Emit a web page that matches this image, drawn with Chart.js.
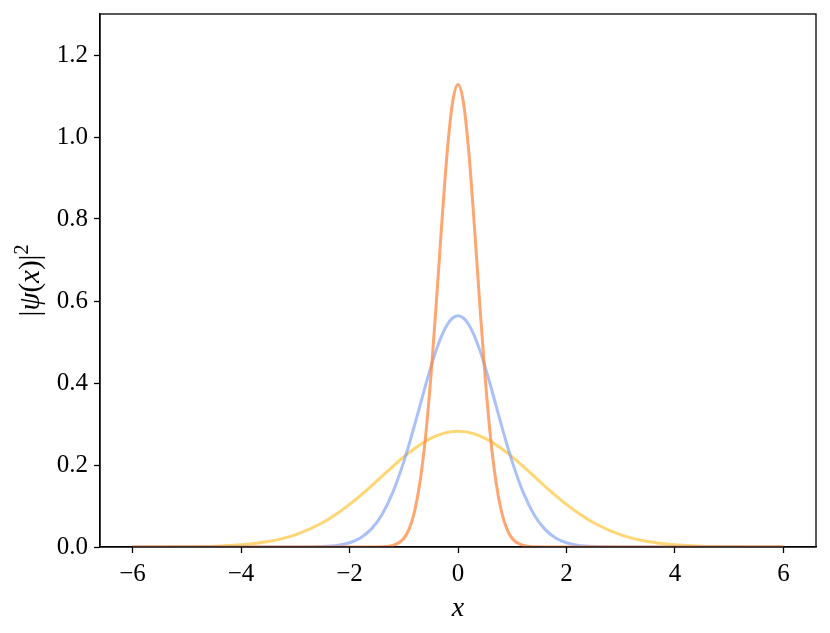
<!DOCTYPE html>
<html>
<head>
<meta charset="utf-8">
<script src="https://cdn.jsdelivr.net/npm/chart.js@4"></script>
<style>
  body { margin: 0; background: #fff; }
  #box { width: 830px; height: 633px; }
</style>
</head>
<body>
<div id="box"><canvas id="psiChart"></canvas></div>
<script>
// sample positions along x (denser near the peak)
const xs = [-6, -5.5, -5, -4.5, -4, -3.5, -3, -2.5, -2.2, -2.0, -1.8, -1.6, -1.4, -1.2, -1.0,
  -0.9, -0.8, -0.7, -0.6, -0.5, -0.4, -0.3, -0.2, -0.1, 0,
  0.1, 0.2, 0.3, 0.4, 0.5, 0.6, 0.7, 0.8, 0.9, 1.0, 1.2, 1.4, 1.6, 1.8, 2.0, 2.2, 2.5, 3, 3.5, 4, 4.5, 5, 5.5, 6];

// values, left half (x = -6 .. 0); right half mirrors it
const narrowLeft = [0, 0, 0, 0, 0, 0, 0, 0, 0, 0, 0, 0.00004, 0.00045, 0.0036, 0.0207,
  0.0442, 0.0872, 0.159, 0.267, 0.415, 0.595, 0.787, 0.962, 1.084, 1.128];
const mediumLeft = [0, 0, 0, 0, 0, 0, 0.00007, 0.0011, 0.0045, 0.0103, 0.0221, 0.0436, 0.0795, 0.1337, 0.2076,
  0.251, 0.2975, 0.3456, 0.3936, 0.4394, 0.4808, 0.5156, 0.5421, 0.5586, 0.5642];
const wideLeft = [0.00003, 0.00015, 0.00055, 0.0018, 0.0052, 0.0132, 0.0297, 0.0591, 0.0841, 0.1038, 0.1255, 0.1487, 0.1728, 0.1968, 0.2197,
  0.2304, 0.2404, 0.2496, 0.2578, 0.265, 0.271, 0.2758, 0.2793, 0.2814, 0.2821];

const xTicks = [-6, -4, -2, 0, 2, 4, 6];
const yTicks = [0, 0.2, 0.4, 0.6, 0.8, 1.0, 1.2];

const mirror = (left) => left.concat(left.slice(0, -1).reverse());
const points = (values) => values.map((y, i) => ({ x: xs[i], y }));

const series = [
  { label: "narrow", values: mirror(narrowLeft), color: "rgba(255, 135, 65, 0.75)" },
  { label: "medium", values: mirror(mediumLeft), color: "rgba(125, 160, 245, 0.65)" },
  { label: "wide", values: mirror(wideLeft), color: "rgba(255, 195, 50, 0.68)" },
];

const serif = "'Liberation Serif', 'DejaVu Serif', serif";

const frame = {
  id: "frame",
  afterDraw(chart) {
    const { ctx, chartArea: a } = chart;
    ctx.save();
    ctx.strokeStyle = "#000";
    ctx.lineWidth = 1.3;
    ctx.strokeRect(a.left, a.top, a.right - a.left, a.bottom - a.top);

    // y axis label |ψ(x)|² with mixed upright / italic pieces
    ctx.translate(30, (a.top + a.bottom) / 2);
    ctx.rotate(-Math.PI / 2);
    ctx.fillStyle = "#000";
    ctx.textBaseline = "alphabetic";
    const parts = [
      ["|", "29px " + serif, 0],
      ["ψ", "italic 29px " + serif, 0],
      ["(", "29px " + serif, 0],
      ["x", "italic 29px " + serif, 0],
      [")|", "29px " + serif, 0],
      ["2", "20px " + serif, -11],
    ];
    let width = 0;
    parts.forEach(([t, f]) => { ctx.font = f; width += ctx.measureText(t).width; });
    let pos = -width / 2;
    parts.forEach(([t, f, dy]) => {
      ctx.font = f;
      ctx.fillText(t, pos, 9 + dy);
      pos += ctx.measureText(t).width;
    });
    ctx.restore();
  },
};

new Chart(document.getElementById("psiChart"), {
  type: "line",
  data: {
    datasets: series.map((s) => ({
      label: s.label,
      data: points(s.values),
      borderColor: s.color,
      borderWidth: 3,
      pointRadius: 0,
      fill: false,
      cubicInterpolationMode: "monotone",
    })),
  },
  options: {
    responsive: true,
    maintainAspectRatio: false,
    animation: false,
    layout: { padding: { top: 14, right: 14 } },
    plugins: { legend: { display: false }, tooltip: { enabled: false } },
    scales: {
      x: {
        type: "linear",
        min: -6.6,
        max: 6.6,
        afterBuildTicks: (scale) => { scale.ticks = xTicks.map((value) => ({ value })); },
        afterFit: (scale) => { scale.height = 86; },
        grid: { drawOnChartArea: false, drawTicks: true, tickLength: 6, color: "#000", tickWidth: 1.3 },
        border: { display: true, color: "#000", width: 1.3 },
        ticks: {
          color: "#000",
          padding: 6,
          maxRotation: 0,
          font: { family: serif, size: 25 },
          callback: (v) => (v < 0 ? "\u2212" + Math.abs(v) : String(v)),
        },
        title: { display: true, text: "x", color: "#000", padding: { top: 0, bottom: 8 }, font: { family: serif, size: 28, style: "italic" } },
      },
      y: {
        type: "linear",
        min: 0,
        max: 1.3,
        afterBuildTicks: (scale) => { scale.ticks = yTicks.map((value) => ({ value })); },
        afterFit: (scale) => { scale.width = 100; scale.paddingTop = 0; },
        grid: { drawOnChartArea: false, drawTicks: true, tickLength: 6, color: "#000", tickWidth: 1.3 },
        border: { display: true, color: "#000", width: 1.3 },
        ticks: {
          color: "#000",
          padding: 6,
          font: { family: serif, size: 25 },
          callback: (v) => v.toFixed(1),
        },
      },
    },
  },
  plugins: [frame],
});
</script>
</body>
</html>
